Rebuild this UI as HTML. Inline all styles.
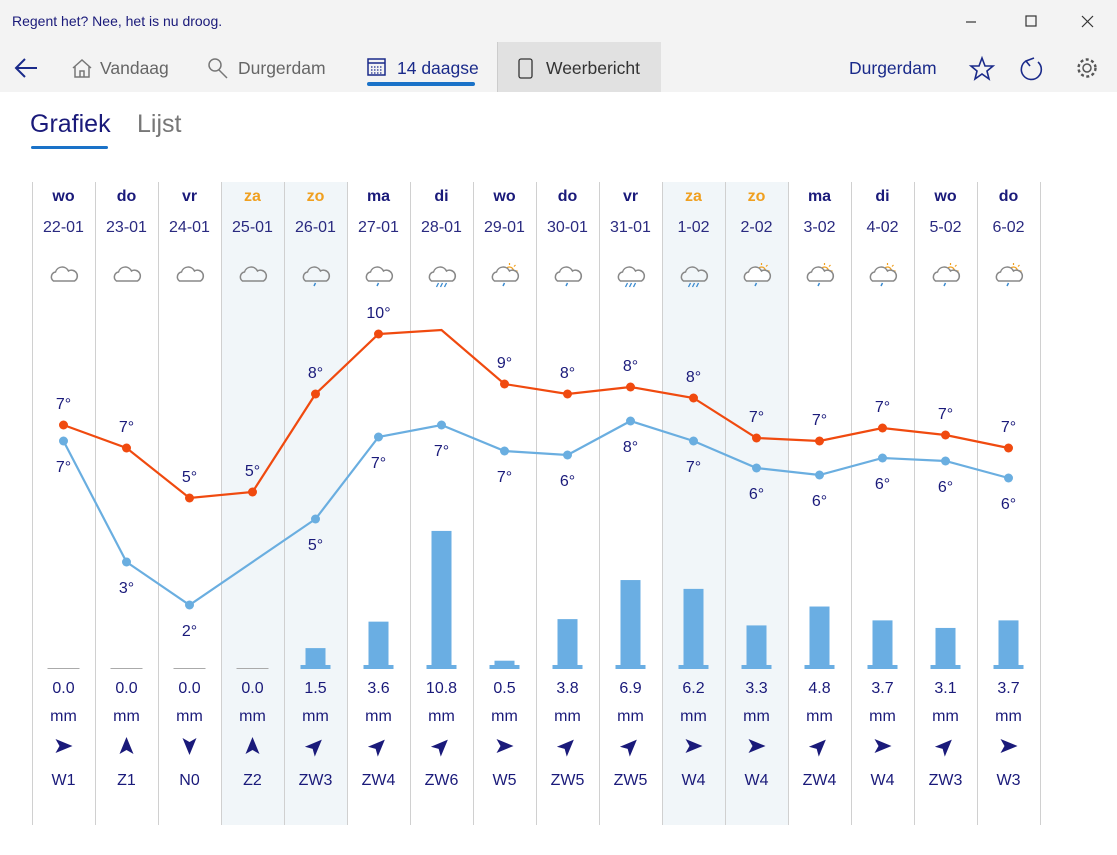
<!DOCTYPE html>
<html><head><meta charset="utf-8"><style>
body{margin:0;width:1117px;height:855px;background:#fff;font-family:"Liberation Sans",sans-serif;overflow:hidden;position:relative}
.top{position:absolute;left:0;top:0;width:1117px;height:92px;background:#f3f3f3}
.t{position:absolute;white-space:nowrap}
</style></head><body>
<div class="top"></div>
<div class="t" style="left:12px;top:13px;font-size:14px;color:#1a1a7a">Regent het? Nee, het is nu droog.</div>
<div style="position:absolute;left:497px;top:42px;width:163px;height:50px;background:#e1e1e1;border-left:1px solid #ccc"></div>
<svg width="1117" height="160" style="position:absolute;left:0;top:0">
 <g stroke="#333" stroke-width="1.2" fill="none">
  <line x1="966" y1="22" x2="976" y2="22"/><rect x="1026" y="16" width="10" height="10"/>
  <line x1="1082" y1="16" x2="1093" y2="27"/><line x1="1093" y1="16" x2="1082" y2="27"/>
 </g>
 <g stroke="#1a2a8a" stroke-width="2" fill="none"><line x1="16" y1="68" x2="37" y2="68"/><polyline points="25,59 16,68 25,77"/></g>
 <g stroke="#777" stroke-width="1.5" fill="none"><path d="M73 68 L82 60 L91 68 M75 66 V77 H89 V66 M80 77 V71 H84 V77"/>
  <circle cx="215" cy="65" r="6"/><line x1="219" y1="70" x2="227" y2="78"/></g>
 <g stroke="#1a2a8a" stroke-width="1.5" fill="none"><rect x="368" y="59" width="17" height="16"/><line x1="368" y1="63" x2="385" y2="63"/>
  <path d="M371 67h11M371 70h11M371 73h11" stroke-dasharray="1.5 1.5" stroke-width="1.2"/></g>
 <rect x="367" y="82" width="108" height="4" rx="2" fill="#1a72c8"/>
 <rect x="519" y="59" width="13" height="19" rx="2" fill="none" stroke="#333" stroke-width="1.3"/>
 <g stroke="#1a2a8a" stroke-width="1.6" fill="none"><polygon points="982,58 985,66 993,66 987,71 989,79 982,74 975,79 977,71 971,66 979,66"/>
  <path d="M1026 61 A10 10 0 1 0 1038 62 M1034 58 L1026 61 L1030 66"/></g>
 <circle cx="1087" cy="68" r="4" fill="none" stroke="#555" stroke-width="1.5"/><circle cx="1087" cy="68" r="8.5" fill="none" stroke="#555" stroke-width="2.4" stroke-dasharray="3 2.5"/>
 <rect x="31" y="146" width="77" height="3" rx="1.5" fill="#1a72c8"/>
</svg>
<div class="t" style="left:100px;top:58px;font-size:17.5px;color:#666">Vandaag</div>
<div class="t" style="left:238px;top:58px;font-size:17.5px;color:#666">Durgerdam</div>
<div class="t" style="left:397px;top:58px;font-size:17.5px;color:#1a2a8a">14 daagse</div>
<div class="t" style="left:546px;top:58px;font-size:17.5px;color:#333">Weerbericht</div>
<div class="t" style="left:849px;top:58px;font-size:17.5px;color:#1a2a8a">Durgerdam</div>
<div class="t" style="left:30px;top:110px;font-size:25px;color:#1a1a7a">Grafiek</div>
<div class="t" style="left:137px;top:110px;font-size:25px;color:#777">Lijst</div>
<svg id="c" width="1117" height="855" style="position:absolute;left:0;top:0" font-family="Liberation Sans, sans-serif"></svg>
<script>
const days="wo do vr za zo ma di wo do vr za zo ma di wo do".split(" ");
const dates="22-01 23-01 24-01 25-01 26-01 27-01 28-01 29-01 30-01 31-01 1-02 2-02 3-02 4-02 5-02 6-02".split(" ");
const rain=[0,0,0,0,1.5,3.6,10.8,0.5,3.8,6.9,6.2,3.3,4.8,3.7,3.1,3.7];
const wind="W1 Z1 N0 Z2 ZW3 ZW4 ZW6 W5 ZW5 ZW5 W4 W4 ZW4 W4 ZW3 W3".split(" ");
const hy=[425,448,498,492,394,334,330,384,394,387,398,438,441,428,435,448];
const hl=["7°","7°","5°","5°","8°","10°",null,"9°","8°","8°","8°","7°","7°","7°","7°","7°"];
const ly=[441,562,605,null,519,437,425,451,455,421,441,468,475,458,461,478];
const ll=["7°","3°","2°",null,"5°","7°","7°","7°","6°","8°","7°","6°","6°","6°","6°","6°"];
const icon=["c","c","c","c","r","r","s","p","r","s","s","p","p","p","p","p"];
let s="";const cx=i=>63.5+63*i;
[3,4,10,11].forEach(i=>s+=`<rect x="${32+63*i}" y="182" width="63" height="643" fill="#f1f6f9"/>`);
for(let i=0;i<=16;i++)s+=`<line x1="${32.5+63*i}" y1="182" x2="${32.5+63*i}" y2="825" stroke="#d0d0d0"/>`;
const N="#1a1a7a";
for(let i=0;i<16;i++){const x=cx(i),we=i==3||i==4||i==10||i==11;
 s+=`<text x="${x}" y="201" text-anchor="middle" font-size="16" font-weight="bold" fill="${we?'#f0a020':N}">${days[i]}</text>`;
 s+=`<text x="${x}" y="232" text-anchor="middle" font-size="16" fill="#2a2a80">${dates[i]}</text>`;
 let ic=icon[i];
 if(ic=="p")s+=`<circle cx="${x+5}" cy="271" r="4" fill="none" stroke="#f0a020" stroke-width="1.3"/><path d="M${x+5} 263v2M${x+13} 271h-2M${x+11} 265l-1.5 1.5" stroke="#f0a020" stroke-width="1.2"/>`;
 s+=`<path d="M${x-10} 281 a5 5 0 0 1 2 -9 a7 7 0 0 1 13 -1 a5 5 0 0 1 6 10 z" fill="${ic=='p'?'#fff':'none'}" stroke="#888" stroke-width="1.5"/>`;
 if(ic=="r"||ic=="p")s+=`<path d="M${x} 283 l-1.5 3" stroke="#3a8ad0" stroke-width="1.5"/>`;
 if(ic=="s")s+=`<path d="M${x-3} 283 l-2 4M${x+1} 283 l-2 4M${x+5} 283 l-2 4" stroke="#3a8ad0" stroke-width="1.3"/>`;
 if(rain[i]==0)s+=`<line x1="${x-16}" y1="668.5" x2="${x+16}" y2="668.5" stroke="#aaa"/>`;
 else{const h=rain[i]*12.6;s+=`<rect x="${x-10}" y="${667-h}" width="20" height="${h}" fill="#6aaee3"/><rect x="${x-15}" y="665" width="30" height="4" fill="#6aaee3"/>`;}
 s+=`<text x="${x}" y="693" text-anchor="middle" font-size="16" fill="${N}">${rain[i].toFixed(1)}</text>`;
 s+=`<text x="${x}" y="721" text-anchor="middle" font-size="16" fill="${N}">mm</text>`;
 const w=wind[i];const r=w.startsWith("ZW")?-45:w[0]=="W"?0:w[0]=="Z"?-90:90;
 s+=`<path d="M9 0 L-8 -7 L-4 0 L-8 7 Z" fill="${N}" transform="translate(${x},746) rotate(${r})"/>`;
 s+=`<text x="${x}" y="785" text-anchor="middle" font-size="16" fill="${N}">${w}</text>`;
}
s+=`<polyline points="${hy.map((y,i)=>cx(i)+','+y).join(' ')}" fill="none" stroke="#f04a0f" stroke-width="2.2"/>`;
let lp=[];ly.forEach((y,i)=>{if(y!=null)lp.push(cx(i)+','+y)});
s+=`<polyline points="${lp.join(' ')}" fill="none" stroke="#6aaee0" stroke-width="2.2"/>`;
for(let i=0;i<16;i++){const x=cx(i);
 if(hl[i]){s+=`<circle cx="${x}" cy="${hy[i]}" r="4.5" fill="#f04a0f"/><text x="${x}" y="${hy[i]-16}" text-anchor="middle" font-size="16" fill="${N}">${hl[i]}</text>`;}
 if(ll[i]){s+=`<circle cx="${x}" cy="${ly[i]}" r="4.5" fill="#6aaee0"/><text x="${x}" y="${ly[i]+31}" text-anchor="middle" font-size="16" fill="${N}">${ll[i]}</text>`;}
}
document.getElementById("c").innerHTML=s;
</script>
</body></html>
